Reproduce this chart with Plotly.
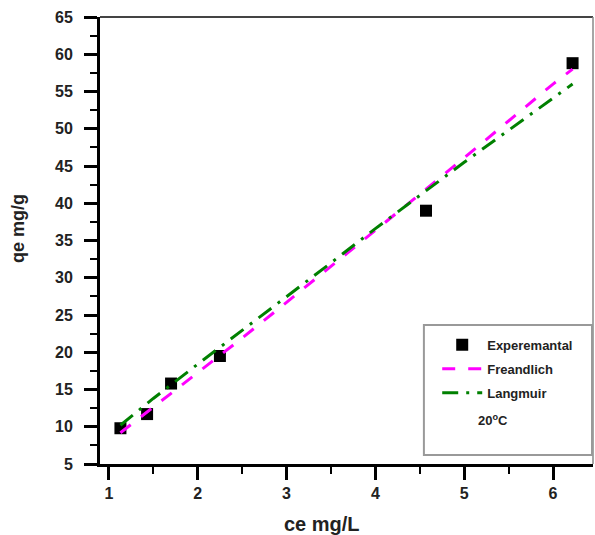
import plotly.graph_objects as go

# Experimental data
ce_exp = [1.13, 1.43, 1.70, 2.25, 4.57, 6.22]
qe_exp = [9.8, 11.7, 15.8, 19.5, 39.0, 58.8]

# Model curves
ce_fit = [1.13, 1.5, 2.0, 2.5, 3.0, 3.5, 4.0, 4.5, 5.0, 5.5, 6.0, 6.22]
qe_freundlich = [9.2, 12.6, 17.2, 21.9, 26.7, 31.5, 36.3, 41.2, 46.1, 51.0, 56.0, 58.0]
qe_langmuir = [10.2, 13.8, 18.4, 22.9, 27.4, 32.0, 36.6, 41.1, 45.5, 49.8, 54.1, 56.0]

x_ticks = [1, 2, 3, 4, 5, 6]
y_ticks = list(range(5, 70, 5))

FONT = "Liberation Sans, Arial, sans-serif"

fig = go.Figure()
fig.add_trace(go.Scatter(
    x=ce_exp, y=qe_exp, mode="markers", name="Experemantal",
    marker=dict(symbol="square", size=12, color="black"),
    legendgroup="a"))
fig.add_trace(go.Scatter(
    x=ce_fit, y=qe_freundlich, mode="lines", name="Freandlich",
    line=dict(color="#FF00FF", width=3, dash="13px,13px"),
    legendgroup="b"))
fig.add_trace(go.Scatter(
    x=ce_fit, y=qe_langmuir, mode="lines", name="Langmuir",
    line=dict(color="#008000", width=3, dash="16px,8px,3px,8px"),
    legendgroup="c"))

axis_common = dict(
    showline=True, linecolor="black", linewidth=3, mirror=False,
    ticks="outside", ticklen=13, tickwidth=3, tickcolor="black",
    showgrid=False, zeroline=False,
    tickfont=dict(family=FONT, size=16, color="#222222", weight="bold"),
)

fig.update_xaxes(
    range=[0.9, 6.45], tickvals=x_ticks,
    minor=dict(ticks="outside", ticklen=7, tickwidth=2, tickcolor="black", dtick=0.5, tick0=0.5),
    **axis_common)
fig.update_yaxes(
    range=[5, 65], tickvals=y_ticks,
    minor=dict(ticks="outside", ticklen=7, tickwidth=2, tickcolor="black", dtick=2.5, tick0=2.5),
    ticklabelstandoff=8,
    **axis_common)

title_font = dict(family=FONT, size=20, color="#222222", weight="bold")

fig.update_layout(
    width=595, height=535,
    margin=dict(l=100, r=2, t=17, b=71),
    paper_bgcolor="white", plot_bgcolor="white",
    showlegend=True,
    legend=dict(
        x=0.684, y=0.30, xanchor="left", yanchor="top",
        bgcolor="rgba(0,0,0,0)", borderwidth=0,
        font=dict(family=FONT, size=13, color="#222222", weight="bold"),
        tracegroupgap=4, itemwidth=40,
    ),
    shapes=[
        dict(type="line", xref="paper", yref="paper", x0=0, x1=1, y0=1, y1=1,
             line=dict(color="#444444", width=2)),
        dict(type="line", xref="paper", yref="paper", x0=1, x1=1, y0=0, y1=1,
             line=dict(color="#888888", width=1.5)),
        dict(type="rect", xref="paper", yref="paper", x0=0.657, x1=0.998, y0=0.02, y1=0.311,
             line=dict(color="#999999", width=2), fillcolor="rgba(0,0,0,0)"),
    ],
    annotations=[
        dict(text="20<sup>o</sup>C", xref="paper", yref="paper", x=0.797, y=0.098,
             xanchor="center", yanchor="middle",
             showarrow=False, font=dict(family=FONT, size=13, color="#222222", weight="bold")),
        dict(text="ce mg/L", xref="paper", yref="paper", x=0.450, y=-0.134,
             xanchor="center", yanchor="middle", showarrow=False, font=title_font),
        dict(text="qe mg/g", xref="paper", yref="paper", x=-0.166, y=0.526,
             xanchor="center", yanchor="middle", textangle=-90,
             showarrow=False, font=dict(family=FONT, size=18, color="#222222", weight="bold")),
    ],
)

fig.write_html("out.html")
